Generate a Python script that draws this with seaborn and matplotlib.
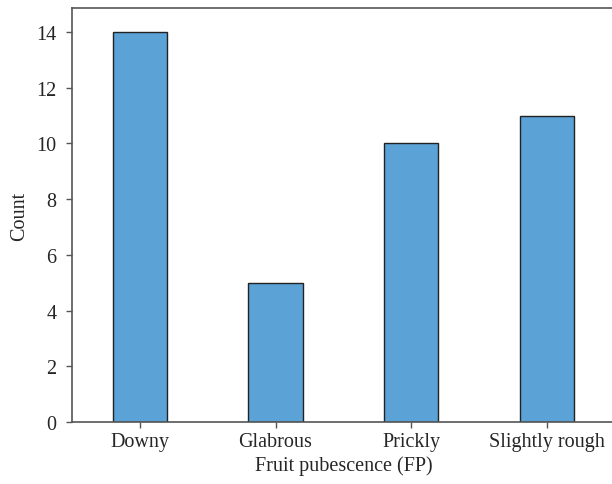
import pandas as pd
import seaborn as sns
import matplotlib.pyplot as plt

categories = ["Downy", "Glabrous", "Prickly", "Slightly rough"]
counts = [14, 5, 10, 11]

sns.set_style("ticks")
plt.rcParams["font.family"] = ["Liberation Serif", "DejaVu Serif"]

df = pd.DataFrame({"fp": categories, "count": counts})

fig = plt.figure(figsize=(6.12, 4.85), dpi=100)
ax = fig.add_axes([0.1176, 0.1278, 0.887, 0.8536])

sns.barplot(
    data=df,
    x="fp",
    y="count",
    color="#5ba3d7",
    saturation=1,
    width=0.4,
    edgecolor="#222222",
    linewidth=1.0,
    ax=ax,
)

ax.set_xlim(-0.5, 3.5)
ax.set_ylim(0, 14.86)
ax.set_yticks(range(0, 15, 2))
ax.set_xlabel("Fruit pubescence (FP)", fontsize=14.5, labelpad=3)
ax.set_ylabel("Count", fontsize=14.5, labelpad=5)
ax.tick_params(axis="both", labelsize=14.5, length=4, width=1, color="#555555")
ax.tick_params(axis="y", pad=7)
for s in ax.spines.values():
    s.set_color("#555555")
    s.set_linewidth(1.2)

plt.savefig("out.png", dpi=100)
